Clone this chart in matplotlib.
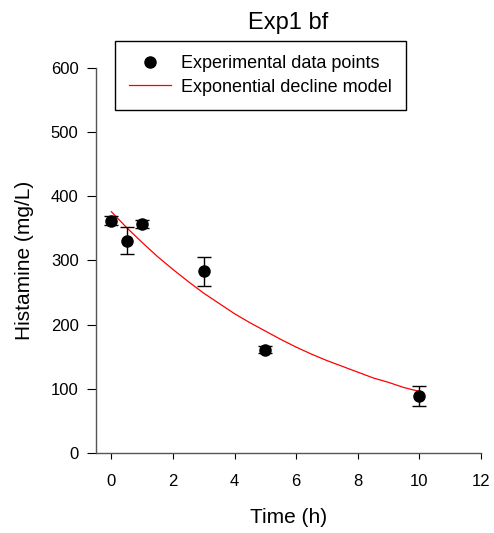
import numpy as np
import matplotlib as mpl
import matplotlib.pyplot as plt
from matplotlib.lines import Line2D

mpl.rcParams['font.family'] = ['Liberation Sans', 'DejaVu Sans']

# Experimental data (time in h, histamine in mg/L)
time_h = [0, 0.5, 1, 3, 5, 10]
histamine = [362, 331, 357, 283, 161, 89]
histamine_err = [7, 21, 6, 22, 5, 15]

# Exponential decline model
model_t = [0, 0.5, 1, 1.5, 2, 2.5, 3, 3.5, 4, 4.5, 5,
           5.5, 6, 6.5, 7, 7.5, 8, 8.5, 9, 9.5, 10]
model_y = [376, 351, 328, 306, 286, 267, 249, 233, 217, 203, 190,
           177, 165, 154, 144, 135, 126, 117, 110, 102, 96]

fig = plt.figure(figsize=(4.94, 5.33), dpi=100)
ax = fig.add_axes([96/494, 80/533, 385/494, 385/533])

ax.errorbar(time_h, histamine, yerr=histamine_err, fmt='o', color='k',
            markersize=8, elinewidth=1, capsize=5, capthick=1, zorder=3)
ax.plot(model_t, model_y, color='red', lw=0.9)

ax.set_xlim(-0.5, 12)
ax.set_ylim(0, 600)
ax.set_xticks(range(0, 13, 2))
ax.set_yticks(range(0, 601, 100))

for s in ['top', 'right']:
    ax.spines[s].set_visible(False)
for s in ['left', 'bottom']:
    ax.spines[s].set_color('#555555')
    ax.spines[s].set_linewidth(1)

ax.tick_params(axis='y', direction='out', length=6.5, width=0.8, pad=6, labelsize=12)
ax.tick_params(axis='x', direction='out', length=4, width=0.8, pad=11, labelsize=12)

ax.set_xlabel("Time (h)", fontsize=15, labelpad=14)
ax.set_ylabel("Histamine (mg/L)", fontsize=15, labelpad=12)
ax.set_title("Exp1 bf", fontsize=17, pad=28)

handles = [Line2D([], [], ls='none', marker='o', color='k', markersize=8),
           Line2D([], [], color='red', lw=0.9)]
labels = ["Experimental data points", "Exponential decline model"]
leg = ax.legend(handles, labels, loc='upper left', bbox_to_anchor=(0.049, 1.07),
                fontsize=13, frameon=True, fancybox=False, borderaxespad=0,
                handlelength=2.3, handletextpad=0.55, borderpad=0.8, labelspacing=0.35)
leg.get_frame().set_edgecolor('black')
leg.get_frame().set_linewidth(1)
leg.get_frame().set_alpha(1)

fig.savefig("out.png", dpi=100)
